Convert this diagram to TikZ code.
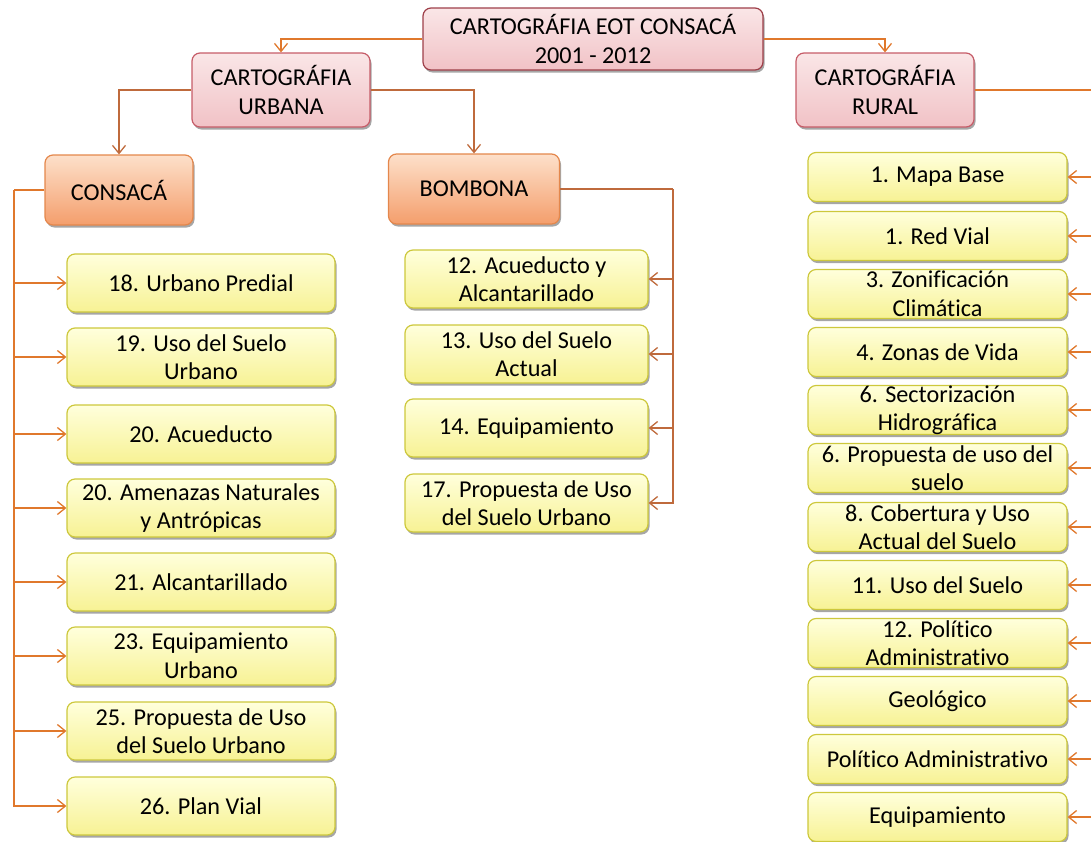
\documentclass[tikz,border=0pt]{standalone}
\usepackage{fontspec}
\setmainfont[Ligatures=NoCommon]{Carlito}
\usetikzlibrary{arrows.meta,shadows}

\definecolor{lineor}{HTML}{E0782C}
\definecolor{linebr}{HTML}{BF6A3C}
\definecolor{pinktop}{HTML}{FAE6E7}
\definecolor{pinkbot}{HTML}{F1C2C6}
\definecolor{rootdraw}{HTML}{9E3F49}
\definecolor{pinkdraw}{HTML}{C65C68}
\definecolor{orgtop}{HTML}{FDE0CA}
\definecolor{orgbot}{HTML}{F49E6C}
\definecolor{orgdraw}{HTML}{E4874C}
\definecolor{yeltop}{HTML}{FFFFDC}
\definecolor{yelbot}{HTML}{F7F294}
\definecolor{yeldraw}{HTML}{CDC83C}

\begin{document}
\begin{tikzpicture}[x=1pt, y=-1pt, >={Straight Barb[length=8pt,width=13pt]},
  box/.style={rounded corners=8pt, line width=1.2pt, align=center, inner xsep=0pt,
    inner ysep=-3pt, font=\fontsize{24.2}{28.5}\selectfont,
    drop shadow={shadow xshift=1.5pt, shadow yshift=-2.5pt, opacity=0.35, fill=black}},
  rootbox/.style={box, draw=rootdraw, top color=pinktop, bottom color=pinkbot,
    minimum width=340pt, minimum height=62pt},
  catbox/.style={box, draw=pinkdraw, top color=pinktop, bottom color=pinkbot,
    minimum width=178pt, minimum height=74pt},
  townbox/.style={box, draw=orgdraw, top color=orgtop, bottom color=orgbot,
    minimum height=70pt},
  mapbox/.style={box, draw=yeldraw, top color=yeltop, bottom color=yelbot},
  urbmap/.style={mapbox, minimum width=268pt, minimum height=58pt},
  bommap/.style={mapbox, minimum width=243pt, minimum height=58pt},
  rurmap/.style={mapbox, minimum width=259pt, minimum height=49pt},
  conn/.style={line width=1.3pt, lineor},
  connb/.style={line width=1.3pt, linebr}]

  \useasboundingbox (0,0) rectangle (1091,841);

  % Main levels
  \node[rootbox] (root) at (593,39) {CARTOGRÁFIA EOT CONSACÁ\\2001 - 2012};
  \node[catbox] (urbana) at (281,90) {CARTOGRÁFIA\\URBANA};
  \node[catbox] (rural) at (885,90) {CARTOGRÁFIA\\RURAL};
  \node[townbox, minimum width=148pt] (consaca) at (119,190) {CONSACÁ};
  \node[townbox, minimum width=171pt] (bombona) at (474,189) {BOMBONA};

  % Consacá maps
  \node[urbmap] (u1) at (201,283) {18. Urbano Predial};
  \node[urbmap] (u2) at (201,357) {19. Uso del Suelo\\Urbano};
  \node[urbmap] (u3) at (201,434) {20. Acueducto};
  \node[urbmap] (u4) at (201,508) {20. Amenazas Naturales\\y Antrópicas};
  \node[urbmap] (u5) at (201,582) {21. Alcantarillado};
  \node[urbmap] (u6) at (201,656) {23. Equipamiento\\Urbano};
  \node[urbmap] (u7) at (201,731) {25. Propuesta de Uso\\del Suelo Urbano};
  \node[urbmap] (u8) at (201,806) {26. Plan Vial};

  % Bombona maps
  \node[bommap] (b1) at (526.5,279) {12. Acueducto y\\Alcantarillado};
  \node[bommap] (b2) at (526.5,354) {13. Uso del Suelo\\Actual};
  \node[bommap] (b3) at (526.5,428) {14. Equipamiento};
  \node[bommap] (b4) at (526.5,503) {17. Propuesta de Uso\\del Suelo Urbano};

  % Rural maps
  \node[rurmap] (r1) at (937.5,177) {1. Mapa Base};
  \node[rurmap] (r2) at (937.5,236) {1. Red Vial};
  \node[rurmap] (r3) at (937.5,294) {3. Zonificación\\Climática};
  \node[rurmap] (r4) at (937.5,352) {4. Zonas de Vida};
  \node[rurmap] (r5) at (937.5,410) {6. Sectorización\\Hidrográfica};
  \node[rurmap] (r6) at (937.5,468) {6. Propuesta de uso del\\suelo};
  \node[rurmap] (r7) at (937.5,527) {8. Cobertura y Uso\\Actual del Suelo};
  \node[rurmap] (r8) at (937.5,585) {11. Uso del Suelo};
  \node[rurmap] (r9) at (937.5,643) {12. Político\\Administrativo};
  \node[rurmap] (r10) at (937.5,701) {Geológico};
  \node[rurmap] (r11) at (937.5,759) {Político Administrativo};
  \node[rurmap] (r12) at (937.5,817) {Equipamiento};

  % Top branches
  \draw[conn, ->] (root.west) -| (urbana.north);
  \draw[conn, ->] (root.east) -| (rural.north);
  \draw[connb, ->] (urbana.west) -| (consaca.north);
  \draw[connb, ->] (urbana.east) -| (bombona.north);

  % Bus lines
  \coordinate (cbus) at (14,190);
  \coordinate (bbus) at (673,189);
  \coordinate (rbus) at (1093,90);
  \draw[conn] (consaca.west) -- (cbus);
  \draw[connb] (bombona.east) -- (bbus);
  \draw[conn] (rural.east) -- (rbus);

  \foreach \n in {u1,u2,u3,u4,u5,u6,u7,u8}
    \draw[conn, ->] (cbus) |- (\n.west);
  \foreach \n in {b1,b2,b3,b4}
    \draw[connb, ->] (bbus) |- (\n.east);
  \foreach \n in {r1,r2,r3,r4,r5,r6,r7,r8,r9,r10,r11,r12}
    \draw[conn, ->] (rbus) |- (\n.east);
\end{tikzpicture}
\end{document}
